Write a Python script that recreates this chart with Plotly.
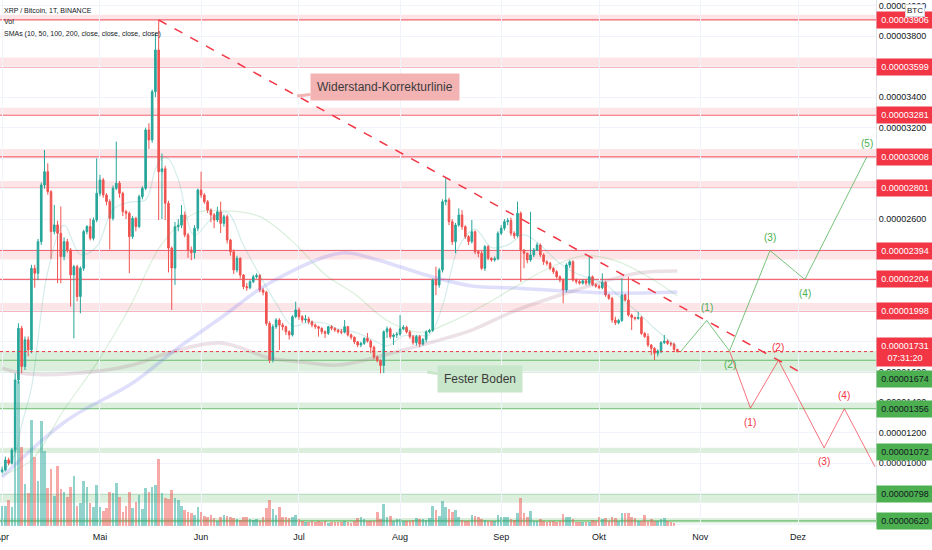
import pandas as pd
import plotly.graph_objects as go

# XRP / BTC daily candles (Binance), prices in satoshi (1e-8 BTC), first candle 2021-04-01
opens = [944, 955, 1020, 999, 1086, 1545, 1884, 1633, 1808, 1742,
         2277, 2245, 2452, 2824, 2911, 2780, 2518, 2562, 2507, 2354,
         2452, 2398, 2234, 2288, 2092, 2277, 2518, 2551, 2474, 2594,
         2769, 2857, 2758, 2715, 2605, 2802, 2835, 2769, 2649, 2638,
         2485, 2605, 2551, 2747, 2802, 3185, 3119, 3436, 3709, 2911,
         2930, 2704, 2410, 2279, 2550, 2560, 2627, 2496, 2397, 2380,
         2540, 2791, 2758, 2714, 2660, 2627, 2594, 2648, 2572, 2616,
         2463, 2386, 2266, 2343, 2233, 2157, 2150, 2189, 2222, 2230,
         2135, 2120, 1916, 1676, 1894, 1938, 1905, 1894, 1861, 1840,
         1960, 2004, 1960, 1938, 1945, 1927, 1905, 1894, 1884, 1861,
         1851, 1894, 1884, 1872, 1861, 1858, 1894, 1840, 1825, 1795,
         1774, 1785, 1818, 1800, 1760, 1695, 1672, 1640, 1861, 1880,
         1829, 1840, 1845, 1880, 1890, 1860, 1829, 1790, 1830, 1780,
         1810, 1861, 1870, 2200, 2168, 2266, 2714, 2725, 2583, 2452,
         2561, 2627, 2550, 2485, 2453, 2517, 2386, 2376, 2277, 2419,
         2343, 2332, 2340, 2507, 2540, 2583, 2590, 2507, 2490, 2638,
         2397, 2376, 2332, 2365, 2397, 2430, 2365, 2320, 2310, 2277,
         2255, 2222, 2200, 2135, 2299, 2320, 2200, 2190, 2180, 2195,
         2180, 2222, 2170, 2160, 2150, 2185, 2102, 2080, 1938, 1920,
         1935, 2102, 2069, 1971, 1955, 1948, 1955, 1850, 1830, 1774,
         1752, 1720, 1735, 1790, 1800, 1785, 1780, 1745]
highs = [977, 1042, 1035, 1100, 1589, 1917, 1900, 1830, 1830, 2300,
         2300, 2470, 2840, 3053, 2966, 2790, 2693, 2590, 2682, 2480,
         2470, 2410, 2300, 2300, 2290, 2530, 2560, 2605, 2610, 2999,
         2890, 2870, 2770, 2730, 2820, 3108, 2850, 2780, 2660, 2650,
         2620, 2615, 2760, 2815, 3200, 3228, 3450, 3819, 3906, 3030,
         2950, 2720, 2420, 2581, 2600, 2692, 2650, 2510, 2420, 2560,
         2800, 2911, 2770, 2725, 2670, 2640, 2681, 2714, 2630, 2630,
         2470, 2400, 2360, 2350, 2240, 2180, 2200, 2235, 2244, 2240,
         2150, 2130, 1930, 1910, 1950, 1950, 1920, 1900, 1870, 1970,
         2058, 2020, 1970, 1971, 1960, 1935, 1915, 1900, 1890, 1870,
         1900, 1905, 1890, 1880, 1880, 1938, 1900, 1850, 1830, 1800,
         1795, 1825, 1853, 1810, 1770, 1705, 1680, 1870, 1895, 1890,
         1850, 1860, 1971, 1905, 1900, 1870, 1840, 1840, 1840, 1820,
         1870, 1880, 2210, 2288, 2280, 2730, 2868, 2740, 2600, 2575,
         2671, 2660, 2560, 2495, 2594, 2525, 2395, 2390, 2430, 2430,
         2350, 2355, 2520, 2560, 2600, 2607, 2610, 2520, 2714, 2650,
         2400, 2380, 2648, 2410, 2445, 2440, 2375, 2330, 2320, 2285,
         2265, 2230, 2210, 2310, 2330, 2330, 2210, 2200, 2205, 2205,
         2353, 2230, 2180, 2170, 2244, 2195, 2110, 2090, 1960, 1945,
         2211, 2110, 2222, 1980, 1960, 1990, 1965, 1860, 1850, 1780,
         1760, 1745, 1800, 1840, 1810, 1795, 1790, 1750]
lows = [933, 945, 985, 990, 1070, 1520, 1589, 1610, 1700, 1720,
        2150, 2200, 2430, 2800, 2760, 2340, 2500, 2180, 2179, 2330,
        2380, 2026, 1818, 2060, 1982, 2260, 2500, 2460, 2460, 2580,
        2750, 2740, 2690, 2400, 2590, 2790, 2740, 2620, 2600, 2245,
        2470, 2520, 2540, 2730, 2790, 3060, 3100, 3400, 2594, 2600,
        2594, 2250, 2004, 2168, 2520, 2540, 2480, 2345, 2330, 2340,
        2520, 2740, 2700, 2640, 2580, 2540, 2580, 2509, 2550, 2440,
        2360, 2240, 2250, 2210, 2140, 2130, 2140, 2180, 2210, 2120,
        2100, 1900, 1656, 1660, 1880, 1741, 1870, 1840, 1810, 1830,
        1950, 1940, 1920, 1920, 1910, 1890, 1880, 1829, 1845, 1820,
        1840, 1870, 1860, 1850, 1845, 1850, 1830, 1810, 1780, 1760,
        1760, 1775, 1790, 1721, 1680, 1660, 1588, 1590, 1820, 1815,
        1774, 1820, 1835, 1870, 1850, 1815, 1775, 1770, 1760, 1770,
        1790, 1850, 1860, 2102, 2150, 2250, 2690, 2560, 2430, 2376,
        2550, 2530, 2470, 2430, 2440, 2370, 2350, 2266, 2260, 2330,
        2320, 2320, 2330, 2495, 2525, 2560, 2490, 2470, 2480, 2189,
        2277, 2310, 2320, 2350, 2390, 2350, 2300, 2295, 2265, 2240,
        2210, 2185, 2048, 2120, 2280, 2190, 2175, 2170, 2170, 2165,
        2165, 2160, 2150, 2140, 2140, 2090, 2070, 1920, 1905, 1910,
        1925, 2060, 1960, 1872, 1935, 1940, 1840, 1820, 1760, 1708,
        1676, 1700, 1720, 1780, 1775, 1765, 1735, 1725]
closes = [955, 1020, 999, 1086, 1545, 1884, 1633, 1808, 1742, 2277,
          2245, 2452, 2824, 2911, 2780, 2518, 2562, 2507, 2354, 2452,
          2398, 2234, 2288, 2092, 2277, 2518, 2551, 2474, 2594, 2769,
          2857, 2758, 2715, 2605, 2802, 2835, 2769, 2649, 2638, 2485,
          2605, 2551, 2747, 2802, 3185, 3119, 3436, 3709, 2911, 2930,
          2704, 2410, 2279, 2550, 2560, 2627, 2496, 2397, 2380, 2540,
          2791, 2758, 2714, 2660, 2627, 2594, 2648, 2572, 2616, 2463,
          2386, 2266, 2343, 2233, 2157, 2150, 2189, 2222, 2230, 2135,
          2120, 1916, 1676, 1894, 1938, 1905, 1894, 1861, 1840, 1960,
          2004, 1960, 1938, 1945, 1927, 1905, 1894, 1884, 1861, 1851,
          1894, 1884, 1872, 1861, 1858, 1894, 1840, 1825, 1795, 1774,
          1785, 1818, 1800, 1760, 1695, 1672, 1640, 1861, 1880, 1829,
          1840, 1845, 1880, 1890, 1860, 1829, 1790, 1830, 1780, 1810,
          1861, 1870, 2200, 2168, 2266, 2714, 2725, 2583, 2452, 2561,
          2627, 2550, 2485, 2453, 2517, 2386, 2376, 2277, 2419, 2343,
          2332, 2340, 2507, 2540, 2583, 2590, 2507, 2490, 2638, 2397,
          2376, 2332, 2365, 2397, 2430, 2365, 2320, 2310, 2277, 2255,
          2222, 2200, 2135, 2299, 2320, 2200, 2190, 2180, 2195, 2180,
          2222, 2170, 2160, 2150, 2185, 2102, 2080, 1938, 1920, 1935,
          2102, 2069, 1971, 1955, 1948, 1955, 1850, 1830, 1774, 1752,
          1720, 1735, 1790, 1800, 1785, 1780, 1745, 1731]
# daily volume, million XRP
volumes = [60, 60, 78, 57, 330, 435, 237, 126, 99, 318,
           207, 135, 315, 225, 114, 171, 90, 180, 111, 102,
           87, 117, 150, 60, 69, 135, 117, 69, 57, 123,
           57, 45, 54, 102, 99, 129, 87, 42, 60, 102,
           54, 72, 93, 51, 114, 102, 117, 123, 201, 99,
           84, 81, 108, 84, 78, 60, 48, 42, 39, 33,
           57, 42, 30, 27, 33, 24, 15, 27, 33, 30,
           27, 24, 21, 18, 27, 27, 21, 18, 21, 15,
           27, 54, 78, 51, 33, 57, 27, 27, 24, 27,
           33, 21, 15, 12, 12, 15, 12, 15, 12, 15,
           9, 12, 12, 12, 12, 15, 12, 9, 15,
           24, 27, 21, 15, 15, 15, 42, 21, 66, 27,
           30, 15, 21, 21, 15, 15, 15, 18, 24, 21,
           21, 18, 24, 60, 48, 30, 75, 57, 51, 42,
           48, 27, 18, 15, 15, 33, 30, 27, 21, 18,
           15, 15, 15, 33, 27, 27, 27, 21, 18, 39,
           84, 39, 27, 45, 15, 15, 21, 15, 12, 15,
           15, 12, 15, 36, 27, 27, 21, 12, 12, 12,
           12, 12, 18, 15, 27, 21, 24, 15, 27, 24,
           15, 39, 39, 39, 27, 24, 15, 15, 33, 15,
           21, 15, 15, 21, 24, 15, 12, 9]

month_ticks = ["2021-04-01", "2021-05-01", "2021-06-01", "2021-07-01", "2021-08-01",
               "2021-09-01", "2021-10-01", "2021-11-01", "2021-12-01"]
month_names = ["Apr", "Mai", "Jun", "Jul", "Aug", "Sep", "Okt", "Nov", "Dez"]

# moving averages (day number since 2021-04-01, satoshi)
sma10_day = [0, 4, 6, 9, 14, 19, 24, 29, 34, 39, 44, 47, 49, 51, 54, 59, 64, 69, 74, 79, 84,
             89, 94, 99, 103, 108, 113, 118, 123, 128, 131, 135, 140, 145, 150, 155, 160,
             165, 170, 175, 180, 185, 190, 195, 200, 207]
sma10_val = [930, 1060, 1250, 1495, 2256, 2561, 2368, 2420, 2664, 2711, 2727, 2928, 3000, 2995, 2860,
             2493, 2599, 2644, 2428, 2231, 2047, 1900, 1923, 1917, 1878, 1860, 1815, 1769, 1833,
             1837, 1840, 2029, 2417, 2534, 2414, 2431, 2497, 2430, 2327, 2254, 2212, 2173, 2074,
             1987, 1882, 1761]
sma50_day = [0, 9, 19, 29, 39, 49, 59, 69, 79, 89, 99, 108, 118, 128, 138, 148, 158, 168, 178,
             188, 198, 207]
sma50_val = [920, 1019, 1351, 1655, 2017, 2437, 2637, 2654, 2616, 2454, 2237, 2110, 1935, 1857,
             1929, 2039, 2165, 2282, 2359, 2328, 2223, 2095]
sma100_day = [0, 20, 40, 53, 67, 82, 104, 113, 132, 144, 157, 186, 207]
sma100_val = [908, 1282, 1525, 1741, 1951, 2181, 2378, 2345, 2220, 2161, 2148, 2115, 2122]
sma200_day = [0, 8, 30, 40, 51, 67, 82, 92, 103, 123, 132, 144, 157, 176, 195, 207]
sma200_val = [1623, 1584, 1604, 1643, 1722, 1787, 1689, 1663, 1643, 1741, 1794, 1872, 1997,
              2135, 2246, 2260]

# horizontal levels (satoshi)
resist_levels = [3906, 3599, 3281, 3008, 2801, 2394, 2204, 1998]
resist_zones = [(3906, 3940), (3599, 3660), (3281, 3330), (3008, 3060), (2801, 2850),
                (2335, 2394), (1998, 2050)]
support_levels = [1674, 1356, 1072, 798, 620]
support_lines = [1674, 1356, 798, 620]
support_zones = [(1590, 1735), (1356, 1400), (1066, 1100), (740, 790), (605, 640)]
last_price = 1731
countdown = "07:31:20"

# drawings
trend_x = ["2021-05-19", "2021-12-01 14:00"]
trend_y = [3906, 1597]
bull_x = ["2021-10-26", "2021-11-03", "2021-11-10", "2021-11-22 10:00", "2021-12-03 02:00",
          "2021-12-22 02:00"]
bull_y = [1731, 1935, 1735, 2394, 2204, 3008]
bull_lbl = ["", "(1)", "(2)", "(3)", "(4)", "(5)"]
bear_x = ["2021-11-10", "2021-11-16 10:00", "2021-11-25", "2021-12-09", "2021-12-15 05:00",
          "2021-12-24 14:00"]
bear_y = [1735, 1360, 1674, 1100, 1356, 976]
bear_lbl = ["", "(1)", "(2)", "(3)", "(4)", ""]

SAT = 1e-8
RED = "#f23645"
GREEN = "#4caf50"
SANS = "Liberation Sans, Arial, sans-serif"


def sats(vals):
    return [v * SAT for v in vals]


dates = pd.date_range("2021-04-01", periods=len(closes), freq="D")
vol_colors = ["rgba(38,166,154,0.5)" if c >= o else "rgba(239,83,80,0.5)"
              for o, c in zip(opens, closes)]

fig = go.Figure()

fig.add_trace(go.Bar(x=dates, y=volumes, yaxis="y2", marker_color=vol_colors,
                     marker_line_width=0, width=0.8 * 86400000, hoverinfo="skip"))

for days, vals, color, w in [(sma200_day, sma200_val, "rgba(170,120,140,0.22)", 3.5),
                             (sma100_day, sma100_val, "rgba(110,110,235,0.22)", 3.5),
                             (sma50_day, sma50_val, "rgba(76,175,80,0.2)", 1.2),
                             (sma10_day, sma10_val, "rgba(38,166,154,0.2)", 1.2)]:
    fig.add_trace(go.Scatter(x=dates[days], y=sats(vals), mode="lines",
                             line=dict(color=color, width=w, shape="spline"),
                             hoverinfo="skip"))

fig.add_trace(go.Candlestick(
    x=dates, open=sats(opens), high=sats(highs), low=sats(lows), close=sats(closes),
    increasing=dict(line=dict(color="#26a69a", width=1), fillcolor="#26a69a"),
    decreasing=dict(line=dict(color="#ef5350", width=1), fillcolor="#ef5350"),
    whiskerwidth=0))

fig.add_trace(go.Scatter(x=trend_x, y=sats(trend_y), mode="lines",
                         line=dict(color=RED, width=1.5, dash="dash")))
fig.add_trace(go.Scatter(x=bull_x, y=sats(bull_y), mode="lines",
                         line=dict(color="rgba(76,175,80,0.75)", width=1)))
fig.add_trace(go.Scatter(x=bear_x, y=sats(bear_y), mode="lines",
                         line=dict(color="rgba(242,54,69,0.7)", width=1)))

shapes = []
for lo, hi in resist_zones:
    shapes.append(dict(type="rect", xref="paper", x0=0, x1=1, y0=lo * SAT, y1=hi * SAT,
                       fillcolor="rgba(242,54,69,0.13)", line_width=0, layer="below"))
for lvl in resist_levels:
    shapes.append(dict(type="line", xref="paper", x0=0, x1=1, y0=lvl * SAT, y1=lvl * SAT,
                       line=dict(color="rgba(242,54,69,0.75)", width=1.2), layer="below"))
for lo, hi in support_zones:
    shapes.append(dict(type="rect", xref="paper", x0=0, x1=1, y0=lo * SAT, y1=hi * SAT,
                       fillcolor="rgba(76,175,80,0.2)", line_width=0, layer="below"))
for lvl in support_lines:
    shapes.append(dict(type="line", xref="paper", x0=0, x1=1, y0=lvl * SAT, y1=lvl * SAT,
                       line=dict(color="rgba(76,175,80,0.8)", width=1.2), layer="below"))
shapes.append(dict(type="line", xref="paper", x0=0, x1=1, y0=last_price * SAT,
                   y1=last_price * SAT, line=dict(color=RED, width=1, dash="dot")))

ann = []
# price labels on the right
for lvl in resist_levels:
    ann.append(dict(xref="paper", x=1, xanchor="left", y=lvl * SAT, yref="y",
                    text=f"{lvl * SAT:.8f}", showarrow=False, bgcolor=RED, width=52,
                    height=12, borderpad=2, font=dict(family=SANS, size=9, color="white")))
for lvl in support_levels:
    ann.append(dict(xref="paper", x=1, xanchor="left", y=lvl * SAT, yref="y",
                    yshift=-19 if lvl == 1674 else 0,
                    text=f"{lvl * SAT:.8f}", showarrow=False, bgcolor=GREEN, width=52,
                    height=12, borderpad=2, font=dict(family=SANS, size=9, color="#131722")))
ann.append(dict(xref="paper", x=1, xanchor="left", y=last_price * SAT, yref="y",
                text=f"{last_price * SAT:.8f}<br>{countdown}", showarrow=False, bgcolor=RED,
                width=52, height=24, borderpad=2, font=dict(family=SANS, size=9, color="white")))
ann.append(dict(xref="paper", yref="paper", x=1, y=1, xanchor="left", yanchor="top",
                xshift=29, yshift=-4, text="BTC", showarrow=False, bgcolor="white",
                bordercolor="#d1d4dc", borderwidth=1, borderpad=1,
                font=dict(family=SANS, size=8, color="#131722")))

# header
for k, line in enumerate(["XRP / Bitcoin, 1T, BINANCE", "Vol",
                          "SMAs (10, 50, 100, 200, close, close, close, close)"]):
    ann.append(dict(xref="paper", yref="paper", x=0, y=1, xanchor="left", yanchor="top",
                    xshift=2, yshift=-5 - 11.3 * k, text=line, showarrow=False,
                    font=dict(family=SANS, size=7, color="#131722")))

# wave labels
for xs, ys, lbls, col in [(bull_x, bull_y, bull_lbl, GREEN), (bear_x, bear_y, bear_lbl, RED)]:
    for k in range(1, len(xs)):
        if not lbls[k]:
            continue
        peak = k == len(xs) - 1 or ys[k] > ys[k + 1]
        ann.append(dict(x=xs[k], y=ys[k] * SAT, text=lbls[k], showarrow=False,
                        yshift=13 if peak else -14,
                        font=dict(family=SANS, size=10, color=col)))

# callouts
ann.append(dict(x="2021-06-30 10:00", y=3408 * SAT, text="Widerstand-Korrekturlinie",
                showarrow=True, arrowhead=0, arrowwidth=3, arrowcolor="#f4b3b3",
                ax=88, ay=-9, bgcolor="#f4b3b3", borderpad=6,
                font=dict(family=SANS, size=12, color="#3b3b3b")))
ann.append(dict(x="2021-08-09 07:00", y=1597 * SAT, text="Fester Boden",
                showarrow=True, arrowhead=0, arrowwidth=3, arrowcolor="#c8e6c9",
                ax=53, ay=7, bgcolor="#c8e6c9", borderpad=6,
                font=dict(family=SANS, size=12, color="#3b3b3b")))

fig.update_layout(
    width=932, height=550,
    margin=dict(l=0, r=56, t=0, b=24, autoexpand=False),
    paper_bgcolor="white", plot_bgcolor="white",
    showlegend=False, bargap=0,
    shapes=shapes, annotations=ann,
    xaxis=dict(type="date", range=["2021-03-31 08:30", "2021-12-24 21:40"],
               tickvals=month_ticks, ticktext=month_names, showgrid=True,
               gridcolor="#f0f3fa", ticks="", zeroline=False, automargin=False,
               rangeslider=dict(visible=False), ticklabeloverflow="allow",
               ticklabelstandoff=4,
               tickfont=dict(family=SANS, size=9, color="#131722")),
    yaxis=dict(side="right", range=[587 * SAT, 4037 * SAT], tick0=0, dtick=200 * SAT,
               tickformat=".8f", showgrid=True, gridcolor="#f0f3fa", ticks="",
               zeroline=False, showline=True, linecolor="#e0e3eb", automargin=False,
               ticklabeloverflow="allow",
               tickfont=dict(family=SANS, size=9, color="#131722")),
    yaxis2=dict(overlaying="y", range=[0, 1578], visible=False),
)

# the page's default 8px body margin would push the 932x550 figure out of the window
fig.write_html("out.html", config={"displayModeBar": False},
               post_script="document.body.style.margin='0';document.body.style.overflow='hidden';")
